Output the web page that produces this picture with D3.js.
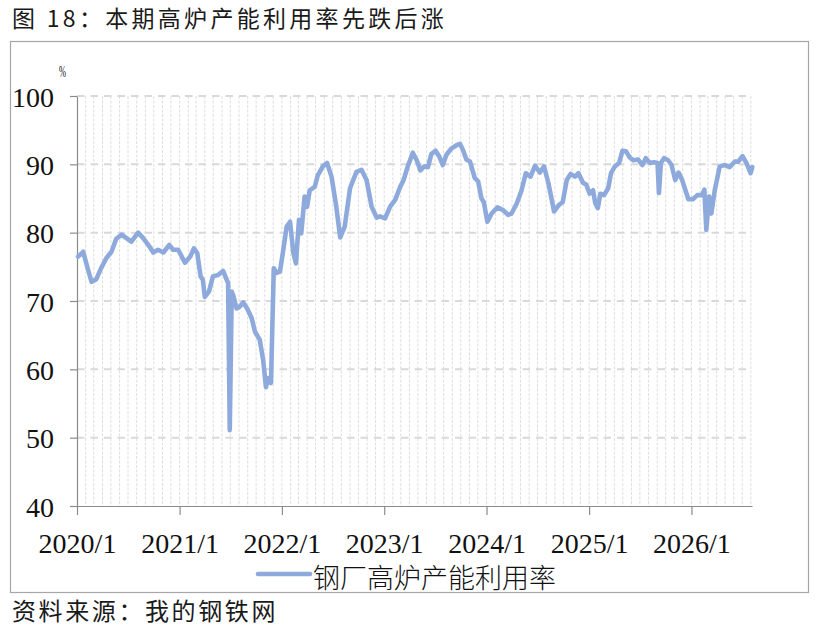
<!DOCTYPE html>
<html>
<head>
<meta charset="utf-8">
<script src="https://cdn.jsdelivr.net/npm/d3@7"></script>
<style>
  body { margin: 0; background: #fff; }
  svg { display: block; }
</style>
</head>
<body>
<div class="chart"></div>
<script>
// weekly readings of blast furnace utilisation, %
var dates = [
  '2020-01-05','2020-01-23','2020-02-10','2020-02-22','2020-03-10','2020-03-27','2020-04-15','2020-05-03',
  '2020-05-20','2020-06-08','2020-06-19','2020-07-13','2020-08-06','2020-08-24','2020-09-17','2020-09-29',
  '2020-10-16','2020-11-04','2020-11-25','2020-12-09','2020-12-27','2021-01-20','2021-02-08','2021-02-21',
  '2021-03-05','2021-03-17','2021-03-25','2021-04-01','2021-04-16','2021-04-30','2021-05-18','2021-06-05',
  '2021-06-23','2021-06-29','2021-07-06','2021-07-13','2021-07-23','2021-08-04','2021-08-16','2021-08-30',
  '2021-09-15','2021-09-27','2021-10-14','2021-10-26','2021-11-05','2021-11-13','2021-11-23','2021-12-03',
  '2021-12-13','2021-12-25','2022-01-06','2022-01-18','2022-01-30','2022-02-11','2022-02-20','2022-03-03',
  '2022-03-11','2022-03-23','2022-04-01','2022-04-10','2022-04-28','2022-05-09','2022-05-27','2022-06-11',
  '2022-06-27','2022-07-14','2022-07-28','2022-08-13','2022-09-01','2022-09-24','2022-10-12','2022-10-30',
  '2022-11-17','2022-12-05','2022-12-17','2023-01-04','2023-01-22','2023-02-09','2023-02-27','2023-03-11',
  '2023-03-26','2023-04-13','2023-04-27','2023-05-10','2023-05-24','2023-06-06','2023-06-18','2023-07-03',
  '2023-07-17','2023-07-29','2023-08-11','2023-08-28','2023-09-16','2023-09-28','2023-10-09','2023-10-21',
  '2023-11-03','2023-11-20','2023-12-02','2023-12-14','2023-12-22','2024-01-04','2024-01-19','2024-02-09',
  '2024-02-29','2024-03-18','2024-03-30','2024-04-17','2024-05-05','2024-05-20','2024-06-06','2024-06-22',
  '2024-07-09','2024-07-24','2024-08-09','2024-08-29','2024-09-14','2024-09-29','2024-10-13','2024-10-27',
  '2024-11-12','2024-11-24','2024-12-10','2024-12-22','2025-01-03','2025-01-15','2025-01-23','2025-02-01',
  '2025-02-10','2025-02-23','2025-03-10','2025-03-20','2025-04-03','2025-04-18','2025-04-30','2025-05-12',
  '2025-05-26','2025-06-07','2025-06-25','2025-07-10','2025-07-22','2025-08-06','2025-08-21','2025-09-02',
  '2025-09-07','2025-09-14','2025-09-25','2025-10-10','2025-10-22','2025-11-04','2025-11-16','2025-11-28',
  '2025-12-21','2026-01-06','2026-01-22','2026-02-08','2026-02-16','2026-02-23','2026-03-05','2026-03-13',
  '2026-03-25','2026-04-12','2026-04-30','2026-05-17','2026-06-05','2026-06-17','2026-07-02','2026-07-16',
  '2026-07-31','2026-08-06'
];
var rates = [
  76.5, 77.2, 74.5, 72.8, 73.2, 74.8, 76.3, 77.2,
  79.1, 79.7, 79.4, 78.7, 80.0, 79.2, 77.9, 77.1,
  77.5, 77.1, 78.2, 77.5, 77.5, 75.6, 76.5, 77.7,
  77.0, 73.6, 73.1, 70.6, 71.4, 73.6, 73.8, 74.4,
  72.6, 51.1, 71.4, 70.6, 68.9, 69.2, 69.8, 68.9,
  67.5, 65.5, 64.3, 61.4, 57.4, 58.7, 58.0, 74.8,
  74.1, 74.3, 77.5, 80.9, 81.6, 77.0, 75.5, 81.9,
  79.9, 85.3, 83.8, 86.2, 86.7, 88.4, 89.7, 90.2,
  88.2, 83.8, 79.3, 80.9, 86.5, 88.9, 89.2, 87.7,
  83.8, 82.2, 82.4, 82.1, 83.8, 84.8, 86.7, 87.7,
  89.7, 91.7, 90.6, 89.1, 89.7, 89.6, 91.5, 92.0,
  91.1, 89.9, 91.4, 92.3, 92.8, 93.0, 92.1, 90.7,
  90.4, 88.0, 87.5, 85.0, 84.5, 81.6, 82.8, 83.7,
  83.3, 82.6, 82.8, 84.2, 86.2, 88.7, 88.2, 89.8,
  88.8, 89.7, 87.2, 83.1, 84.0, 84.5, 87.7, 88.6,
  88.2, 88.7, 87.3, 87.0, 85.7, 86.2, 84.3, 83.6,
  85.7, 85.5, 86.5, 88.7, 89.7, 90.2, 92.0, 91.9,
  91.0, 90.6, 90.7, 89.9, 90.9, 90.2, 90.3, 90.2,
  85.8, 90.2, 90.9, 90.6, 89.9, 87.7, 88.8, 87.8,
  84.9, 84.9, 85.5, 85.5, 86.3, 80.4, 85.3, 82.8,
  86.2, 89.7, 89.9, 89.6, 90.4, 90.4, 91.2, 90.2,
  88.7, 89.6
];
var yTicks = [40, 50, 60, 70, 80, 90, 100];
var seriesName = '钢厂高炉产能利用率';
var titleText = '图 18：本期高炉产能利用率先跌后涨';
var sourceText = '资料来源：我的钢铁网';

var width = 819,
    height = 630,
    lineColor = '#8eaadc',
    axisColor = '#8c8c8c',
    gridColor = '#d9d9d9',
    serif = '"Liberation Serif", "Times New Roman", serif';

var parse = d3.timeParse('%Y-%m-%d');
var points = dates.map(function(d, i) {
    return { date: parse(d), value: rates[i] };
});

var x = d3.scaleTime()
    .domain([new Date(2020, 0, 1), new Date(2026, 7, 5)])
    .range([77, 752]);
var y = d3.scaleLinear()
    .domain([40, 100])
    .range([506, 96]);

var svg = d3.select('.chart').append('svg')
    .attr('width', width)
    .attr('height', height)
    .style('background', 'white');

// title and source
svg.append('text')
    .text(titleText)
    .attr('x', 12)
    .attr('y', 27)
    .attr('fill', '#1a1a1a')
    .style('font-family', '"Noto Sans CJK SC", sans-serif')
    .style('font-size', '23px')
    .style('letter-spacing', '3.3px');

svg.append('text')
    .text(sourceText)
    .attr('x', 12)
    .attr('y', 620)
    .attr('fill', '#1a1a1a')
    .style('font-family', '"Noto Sans CJK SC", sans-serif')
    .style('font-size', '24px')
    .style('letter-spacing', '2.6px');

// chart frame
svg.append('rect')
    .attr('x', 10.5)
    .attr('y', 41.5)
    .attr('width', 798)
    .attr('height', 551)
    .attr('fill', 'none')
    .attr('stroke', '#a6a6a6')
    .attr('stroke-width', 1.2);

// monthly dotted grid
var months = x.ticks(d3.timeMonth.every(1)).filter(function(d) { return x(d) > 78; });
svg.append('g').selectAll('line').data(months)
    .enter().append('line')
        .attr('x1', function(d) { return x(d); })
        .attr('x2', function(d) { return x(d); })
        .attr('y1', y(100))
        .attr('y2', y(40))
        .attr('stroke', '#dedede')
        .attr('stroke-width', 1)
        .attr('stroke-dasharray', '3,1.5');

// dashed horizontal grid
svg.append('g').selectAll('line').data(yTicks.filter(function(d) { return d > 40; }))
    .enter().append('line')
        .attr('x1', x.range()[0])
        .attr('x2', x.range()[1])
        .attr('y1', function(d) { return y(d); })
        .attr('y2', function(d) { return y(d); })
        .attr('stroke', gridColor)
        .attr('stroke-width', 2)
        .attr('stroke-dasharray', '7.5,6');

// axes
var yAxis = svg.append('g')
    .attr('transform', 'translate(77,0)')
    .attr('font-family', serif)
    .call(d3.axisLeft(y).tickValues(yTicks).tickSize(7).tickSizeOuter(0).tickPadding(16));
yAxis.selectAll('text')
    .style('font-family', serif)
    .style('font-size', '28px')
    .attr('fill', '#111')
    .attr('dy', '0.36em');

var xAxis = svg.append('g')
    .attr('transform', 'translate(0,506)')
    .attr('font-family', serif)
    .call(d3.axisBottom(x).ticks(d3.timeYear.every(1)).tickFormat(d3.timeFormat('%Y/%-m'))
        .tickSize(9).tickSizeOuter(0));
xAxis.selectAll('text')
    .style('font-family', serif)
    .style('font-size', '28px')
    .attr('fill', '#111')
    .attr('y', 47)
    .attr('dy', 0);

svg.selectAll('.domain, .tick line')
    .attr('stroke', axisColor)
    .attr('stroke-width', 1.2);

// unit label
svg.append('text')
    .text('%')
    .attr('x', 59)
    .attr('y', 77)
    .attr('textLength', 7)
    .attr('lengthAdjust', 'spacingAndGlyphs')
    .attr('fill', '#111')
    .style('font-family', serif)
    .style('font-size', '17px');

// the series
var line = d3.line()
    .x(function(d) { return x(d.date); })
    .y(function(d) { return y(d.value); });

svg.append('path')
    .datum(points)
    .attr('d', line)
    .attr('fill', 'none')
    .attr('stroke', lineColor)
    .attr('stroke-width', 4.6)
    .attr('stroke-linejoin', 'round')
    .attr('stroke-linecap', 'round');

// legend
svg.append('line')
    .attr('x1', 258)
    .attr('x2', 310)
    .attr('y1', 574)
    .attr('y2', 574)
    .attr('stroke', lineColor)
    .attr('stroke-width', 4.6)
    .attr('stroke-linecap', 'round');

svg.append('text')
    .text(seriesName)
    .attr('x', 313)
    .attr('y', 588)
    .attr('fill', '#111')
    .style('font-family', '"Noto Sans CJK SC", sans-serif')
    .style('font-size', '27px')
    .style('font-weight', 300);
</script>
</body>
</html>
